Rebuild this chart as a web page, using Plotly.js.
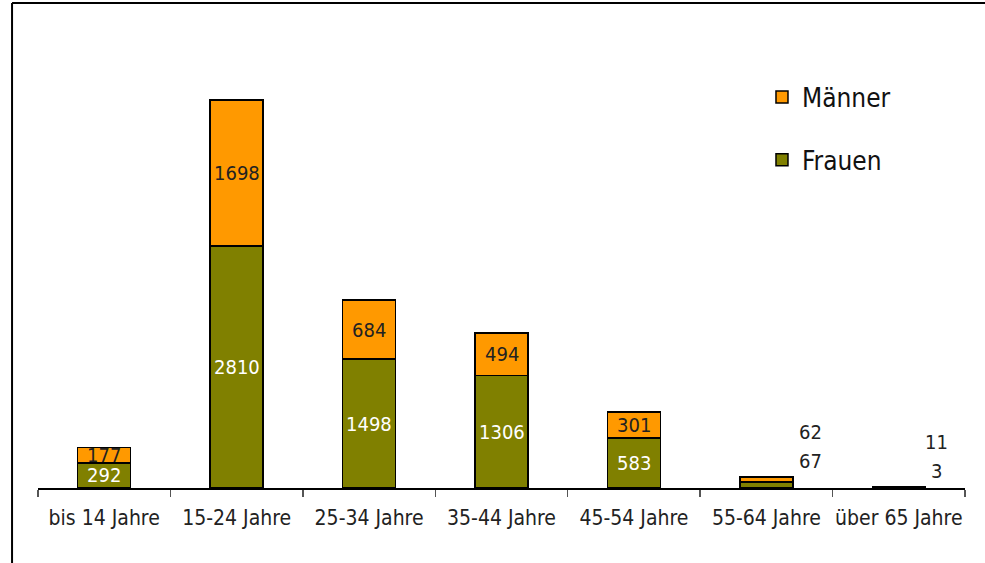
<!DOCTYPE html>
<html>
<head>
<meta charset="utf-8">
<script src="https://cdn.plot.ly/plotly-3.0.1.min.js"></script>
<style>
  html, body { margin: 0; padding: 0; background: #fff; }
  #chart { width: 985px; height: 563px; }
</style>
</head>
<body>
<div id="chart"></div>
<script>
var categories = ["bis 14 Jahre", "15-24 Jahre", "25-34 Jahre", "35-44 Jahre", "45-54 Jahre", "55-64 Jahre", "über 65 Jahre"];
var frauen = [292, 2810, 1498, 1306, 583, 67, 3];
var maenner = [177, 1698, 684, 494, 301, 62, 11];
// the last two groups are labelled beside the bar, not inside it
var outside = [false, false, false, false, false, true, true];

var font = "DejaVu Sans Condensed, DejaVu Sans, sans-serif";

var traces = [
  {
    type: "bar", name: "Frauen", x: categories, y: frauen, legendgroup: "f", legendrank: 2,
    marker: {color: "#808000", line: {color: "#000", width: 1.5}},
    hoverinfo: "skip"
  },
  {
    type: "bar", name: "Männer", x: categories, y: maenner, legendgroup: "m", legendrank: 1,
    marker: {color: "#FF9900", line: {color: "#000", width: 1.5}},
    hoverinfo: "skip"
  }
];

var annotations = [];
categories.forEach(function (c, i) {
  if (outside[i]) {
    var total = frauen[i] + maenner[i];
    var dx = i === 5 ? 44 : 38;
    annotations.push({x: c, y: total, text: String(maenner[i]), showarrow: false,
      xshift: dx, yshift: 45, font: {family: font, size: 20, color: "#222"}});
    annotations.push({x: c, y: total, text: String(frauen[i]), showarrow: false,
      xshift: dx, yshift: 16, font: {family: font, size: 20, color: "#222"}});
  } else {
    annotations.push({x: c, y: frauen[i] / 2, text: String(frauen[i]), showarrow: false,
      font: {family: font, size: 20, color: "#fff"}});
    annotations.push({x: c, y: frauen[i] + maenner[i] / 2, text: String(maenner[i]), showarrow: false,
      font: {family: font, size: 20, color: "#222"}});
  }
});

var layout = {
  width: 985, height: 563,
  margin: {l: 38, r: 20, t: 40, b: 75},
  paper_bgcolor: "#fff", plot_bgcolor: "#fff",
  barmode: "stack", bargap: 0.6,
  showlegend: true,
  legend: {
    x: 0.781, y: 0.925, xanchor: "left", yanchor: "top",
    traceorder: "grouped", tracegroupgap: 26,
    font: {family: font, size: 26, color: "#111"},
    bgcolor: "rgba(0,0,0,0)"
  },
  xaxis: {
    type: "category",
    showline: true, linecolor: "#000", linewidth: 1.5,
    ticks: "outside", tickson: "boundaries", ticklen: 7, tickcolor: "#555", tickwidth: 1.5,
    ticklabelstandoff: 10, tickangle: 0,
    tickfont: {family: font, size: 21, color: "#222"},
    showgrid: false, zeroline: false, fixedrange: true
  },
  yaxis: {
    range: [0, 5205], visible: false, showgrid: false, zeroline: false, fixedrange: true
  },
  annotations: annotations,
  shapes: [
    {type: "line", xref: "paper", yref: "paper", x0: -0.028, x1: 1.05, y0: 1.0826, y1: 1.0826,
      line: {color: "#000", width: 2}},
    {type: "line", xref: "paper", yref: "paper", x0: -0.028, x1: -0.028, y0: 1.0826, y1: -0.2,
      line: {color: "#000", width: 2}}
  ],
  font: {family: font}
};

Plotly.newPlot("chart", traces, layout, {displayModeBar: false, staticPlot: true});
</script>
</body>
</html>
